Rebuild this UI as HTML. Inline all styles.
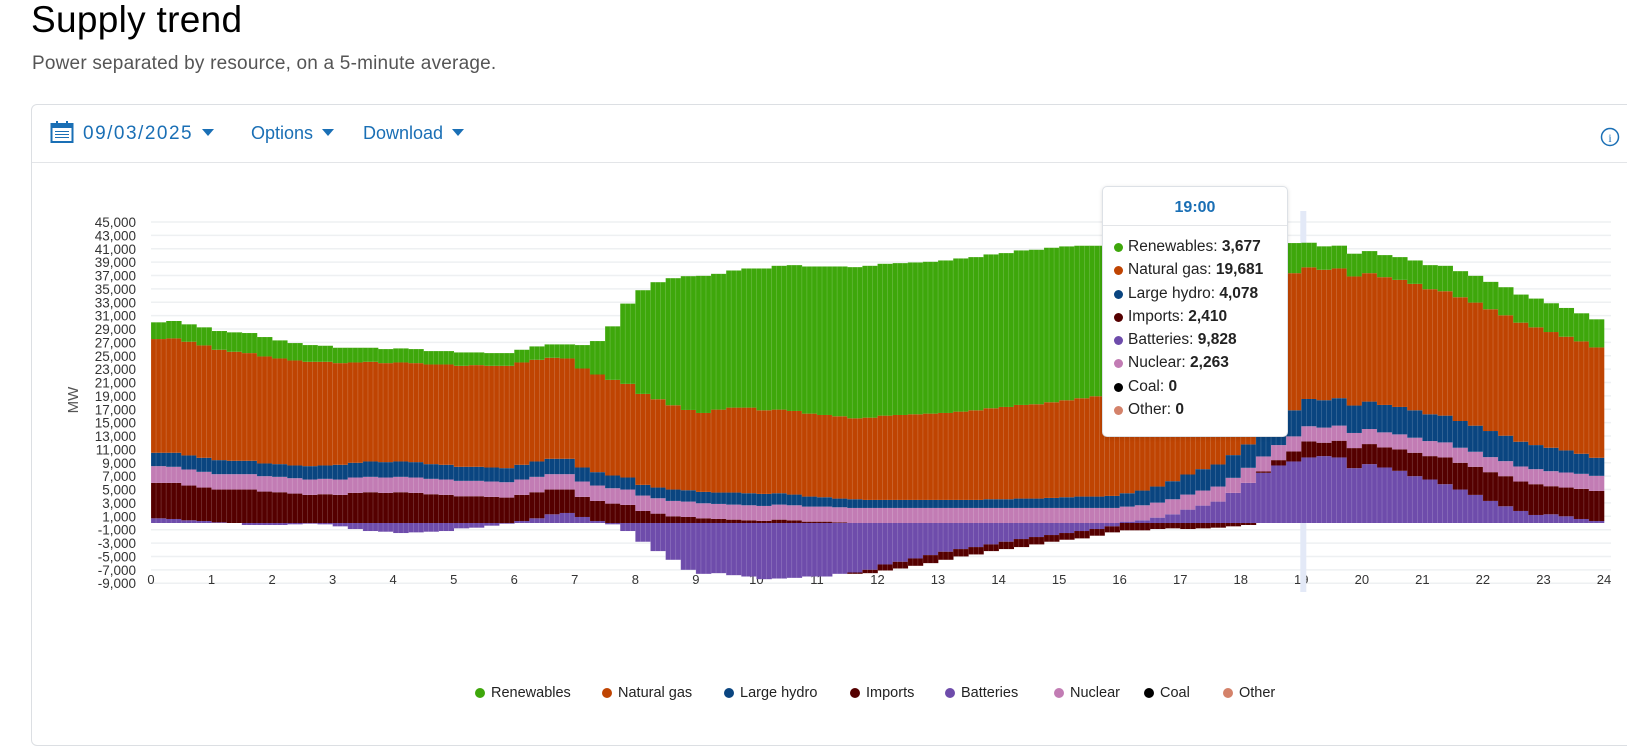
<!DOCTYPE html>
<html><head><meta charset="utf-8"><style>
body{margin:0;width:1627px;height:732px;overflow:hidden;background:#fff;font-family:"Liberation Sans",sans-serif;position:relative}
.abs{position:absolute}
#title{left:31px;top:-1px;font-size:37px;color:#000;letter-spacing:0.3px}
#sub{left:32px;top:53px;font-size:19px;color:#555;letter-spacing:0.2px}
#card{left:31px;top:104px;width:1620px;height:640px;border:1px solid #dcdfe3;border-radius:6px}
#bar{left:32px;top:162px;width:1600px;height:1px;background:#e3e5e8}
.tb{top:123px;font-size:18px;color:#1a6fb5}
.caret{display:inline-block;width:0;height:0;border-left:6px solid transparent;border-right:6px solid transparent;border-top:7px solid #1a6fb5;margin-left:9px;vertical-align:3px}
.dot{display:inline-block;width:10px;height:10px;border-radius:50%;margin-right:6px;vertical-align:-1px}
.tt div{white-space:nowrap}
.tt .dot{width:9px;height:9px;margin-right:5px}
</style></head><body>
<div class="abs" id="title">Supply trend</div>
<div class="abs" id="sub">Power separated by resource, on a 5-minute average.</div>
<div class="abs" id="card"></div>
<div class="abs" id="bar"></div>
<svg class="abs" style="left:50px;top:120px" width="25" height="24"><rect x="1.5" y="4" width="21" height="18" fill="none" stroke="#1a6fb5" stroke-width="2"/><rect x="1.5" y="4" width="21" height="4" fill="#1a6fb5"/><rect x="6" y="1" width="2" height="5" fill="#1a6fb5"/><rect x="16" y="1" width="2" height="5" fill="#1a6fb5"/><g fill="#1a6fb5"><rect x="5" y="11" width="14" height="1"/><rect x="5" y="14" width="14" height="1"/><rect x="5" y="17" width="14" height="1"/></g></svg>
<div class="abs tb" style="left:83px;font-size:19px;letter-spacing:1.5px">09/03/2025<span class="caret"></span></div>
<div class="abs tb" style="left:251px">Options<span class="caret"></span></div>
<div class="abs tb" style="left:363px">Download<span class="caret"></span></div>
<svg class="abs" style="left:1599px;top:126px" width="22" height="22"><circle cx="11" cy="11" r="8.5" fill="none" stroke="#1a6fb5" stroke-width="1.5"/><text x="11" y="16" text-anchor="middle" font-size="12" fill="#1a6fb5" font-family="Liberation Serif">i</text></svg>
<svg id="chart" class="abs" style="left:0;top:0" width="1627" height="732"></svg>
<script>
const batteries=[700,600,400,300,100,0,-300,-300,-300,-200,-100,-200,-500,-900,-1200,-1300,-1500,-1400,-1300,-1200,-800,-700,-400,-100,300,700,1300,1500,900,300,-200,-1200,-2800,-4200,-5500,-7000,-7600,-7500,-7800,-8000,-8400,-8300,-8200,-8000,-8000,-7600,-7400,-7000,-6200,-5800,-5300,-4800,-4300,-3900,-3600,-3200,-2800,-2400,-2100,-1800,-1500,-1200,-900,-500,200,400,800,1300,2000,2600,3200,4500,6000,7500,8600,9200,9800,10000,9800,8200,8800,8300,7800,7000,6500,5800,5000,4200,3300,2500,1800,1200,1300,1000,600,300];
const imports=[5300,5400,5200,5000,4900,5000,5000,4700,4600,4400,4200,4300,4200,4500,4600,4500,4600,4500,4300,4200,4000,4000,3900,3800,3900,3900,3700,3500,3000,3000,2900,2700,1800,1400,1000,900,700,600,500,400,300,500,400,200,200,100,-200,-500,-900,-1000,-1100,-1200,-1200,-1100,-1100,-1000,-1100,-1200,-1100,-1000,-1000,-1100,-1000,-900,-1100,-1100,-900,-800,-900,-800,-700,-500,-300,200,800,1500,2400,2000,2500,3000,3000,3000,3200,3500,3500,4000,4000,4200,4300,4500,4400,4600,4200,4300,4500,4500];
const nuclear=[2500,2400,2400,2350,2300,2300,2300,2300,2300,2300,2300,2300,2300,2300,2300,2300,2300,2300,2300,2300,2300,2300,2300,2300,2300,2300,2300,2300,2300,2300,2300,2300,2300,2300,2300,2300,2250,2250,2250,2250,2250,2250,2250,2250,2250,2250,2250,2250,2250,2250,2250,2250,2250,2250,2250,2250,2250,2250,2250,2250,2250,2250,2250,2250,2250,2250,2250,2250,2250,2250,2250,2250,2250,2250,2250,2250,2263,2260,2260,2260,2250,2250,2250,2250,2250,2250,2250,2250,2250,2250,2250,2250,2250,2250,2250,2250];
const hydro=[2000,2100,2100,2100,2100,2000,2000,1900,1900,1900,2000,2000,2200,2200,2300,2300,2300,2300,2200,2200,2100,2100,2100,2100,2200,2300,2300,2300,2100,2000,1900,1800,1600,1600,1700,1700,1700,1700,1800,1800,1800,1700,1600,1500,1400,1300,1300,1200,1200,1200,1200,1200,1200,1200,1200,1300,1300,1400,1400,1500,1600,1700,1700,1800,2000,2200,2400,2700,3000,3200,3300,3400,3500,3600,3700,3900,4078,4100,4100,4100,4100,4100,4100,4100,4000,4000,4000,3900,3900,3800,3700,3600,3500,3300,3000,2700];
const gas=[17000,17100,17000,16800,16500,16300,16100,16000,15800,15700,15600,15500,15200,15000,14900,14800,14800,14800,14900,15000,15100,15200,15200,15300,15300,15200,15100,15000,14800,14600,14300,14000,13600,13200,12600,12000,11800,12400,12700,12800,12500,12500,12500,12400,12300,12300,12100,12300,12600,12700,12800,12900,13000,13200,13400,13600,13800,14000,14100,14300,14500,14700,15000,15500,16000,16800,17700,18600,19500,20300,21000,21500,21800,21900,21500,20500,19681,19500,19400,19300,19200,19100,19000,18900,18700,18600,18500,18400,18200,18000,17800,17600,17300,17000,16800,16500];
const renewables=[2500,2600,2600,2700,2800,2900,3000,2900,2700,2600,2500,2400,2300,2200,2100,2100,2100,2100,2000,2000,2000,1900,1900,1900,1900,2000,2000,2100,3500,5000,8000,12000,15500,17500,19000,20000,20500,20300,20500,20800,21200,21500,21800,22000,22200,22400,22600,22700,22700,22700,22700,22700,22800,22900,22900,23000,23000,23100,23100,23100,23000,22800,22500,22000,21000,19800,18500,17200,15800,14200,12500,10800,9000,7200,5700,4500,3677,3500,3400,3400,3300,3300,3400,3500,3600,3800,3900,4000,4100,4200,4200,4300,4300,4300,4200,4200];
const yTicks=[45000,43000,41000,39000,37000,35000,33000,31000,29000,27000,25000,23000,21000,19000,17000,15000,13000,11000,9000,7000,5000,3000,1000,-1000,-3000,-5000,-7000,-9000];
const xTicks=[0,1,2,3,4,5,6,7,8,9,10,11,12,13,14,15,16,17,18,19,20,21,22,23,24];

const NS="http://www.w3.org/2000/svg";
const svg=document.getElementById('chart');
const X0=151,X1=1604,Y0=523,PX=301/45000;
const xs=h=>X0+(X1-X0)*h/24;
const ys=v=>Y0-v*PX;
function mk(tag,at){const e=document.createElementNS(NS,tag);for(const k in at)e.setAttribute(k,at[k]);svg.appendChild(e);return e;}
yTicks.forEach(v=>{
  const g=mk('line',{x1:X0,x2:1611,y1:ys(v),y2:ys(v),stroke:'#eef0f2','stroke-width':1.5});
  
  
  const t=mk('text',{x:136,y:ys(v)+5,'text-anchor':'end','font-size':13.5,fill:'#333'});
  t.textContent=v.toLocaleString('en-US');
  
  
});
xTicks.forEach(h=>{
  const t=mk('text',{x:xs(h),y:584,'text-anchor':'middle','font-size':13,fill:'#333'});
  t.textContent=h;
  
  
});
const yt=mk('text',{x:78,y:400,'text-anchor':'middle','font-size':15,fill:'#555',transform:'rotate(-90 78 400)'});
yt.textContent='MW';



const colors={ren:'#3ea70b',gas:'#bf4402',hydro:'#0a4580',imports:'#550000',bat:'#6e4cab',nuc:'#c27cb4'};
const n=batteries.length,bw=(X1-X0)/n;
const hl=mk('rect',{x:xs(19)-1,y:211,width:6,height:381,fill:'#e3e9f7'});


for(let i=0;i<n;i++){
  const x=X0+i*bw;
  let pos=0,neg=0;
  const stack=[[batteries[i],colors.bat,'bar-batteries'],[imports[i],colors.imports,'bar-imports'],[nuclear[i],colors.nuc,'bar-nuclear'],[hydro[i],colors.hydro,'bar-large-hydro'],[gas[i],colors.gas,'bar-natural-gas'],[renewables[i],colors.ren,'bar-renewables']];
  stack.forEach(([v,c,nm])=>{
    let a,b;
    if(v>=0){a=pos;b=pos+v;pos=b;}else{a=neg+v;b=neg;neg=a;}
    const r=mk('rect',{x:x,y:ys(b),width:bw+0.3,height:Math.max(0,ys(a)-ys(b)),fill:c});
    
    
  });
  for(let k=0;k<3;k++){
    const sx=x+k*bw/3;
    const l=mk('line',{x1:sx,x2:sx,y1:ys(pos),y2:ys(neg),stroke:'rgba(255,255,255,0.22)','stroke-width':0.7});
    
    
  }
}
</script>
<div class="abs tt" style="left:1102px;top:186px;width:184px;height:249px;background:#fff;border:1px solid #dde1e6;border-radius:5px;box-shadow:0 1px 4px rgba(0,0,0,0.12);font-size:15.5px;color:#222">
<div style="text-align:center;font-weight:bold;color:#1a6fb5;font-size:16px;margin-top:12px;height:26px;border-bottom:1px solid #e3e5e8">19:00</div>
<div style="padding:9px 0 0 11px;line-height:23.3px">
<div><span class="dot" style="background:#3ea70b"></span>Renewables: <b>3,677</b></div>
<div><span class="dot" style="background:#bf4402"></span>Natural gas: <b>19,681</b></div>
<div><span class="dot" style="background:#0a4580"></span>Large hydro: <b>4,078</b></div>
<div><span class="dot" style="background:#550000"></span>Imports: <b>2,410</b></div>
<div><span class="dot" style="background:#6e4cab"></span>Batteries: <b>9,828</b></div>
<div><span class="dot" style="background:#c27cb4"></span>Nuclear: <b>2,263</b></div>
<div><span class="dot" style="background:#000"></span>Coal: <b>0</b></div>
<div><span class="dot" style="background:#d4826a"></span>Other: <b>0</b></div>
</div></div>
<div class="abs" style="left:0;top:685px;font-size:14.5px;color:#222">
<div class="abs" style="left:475px;white-space:nowrap"><span class="dot" style="background:#3ea70b"></span>Renewables</div>
<div class="abs" style="left:602px;white-space:nowrap"><span class="dot" style="background:#bf4402"></span>Natural gas</div>
<div class="abs" style="left:724px;white-space:nowrap"><span class="dot" style="background:#0a4580"></span>Large hydro</div>
<div class="abs" style="left:850px;white-space:nowrap"><span class="dot" style="background:#550000"></span>Imports</div>
<div class="abs" style="left:945px;white-space:nowrap"><span class="dot" style="background:#6e4cab"></span>Batteries</div>
<div class="abs" style="left:1054px;white-space:nowrap"><span class="dot" style="background:#c27cb4"></span>Nuclear</div>
<div class="abs" style="left:1144px;white-space:nowrap"><span class="dot" style="background:#000"></span>Coal</div>
<div class="abs" style="left:1223px;white-space:nowrap"><span class="dot" style="background:#d4826a"></span>Other</div>
</div>
</body></html>
